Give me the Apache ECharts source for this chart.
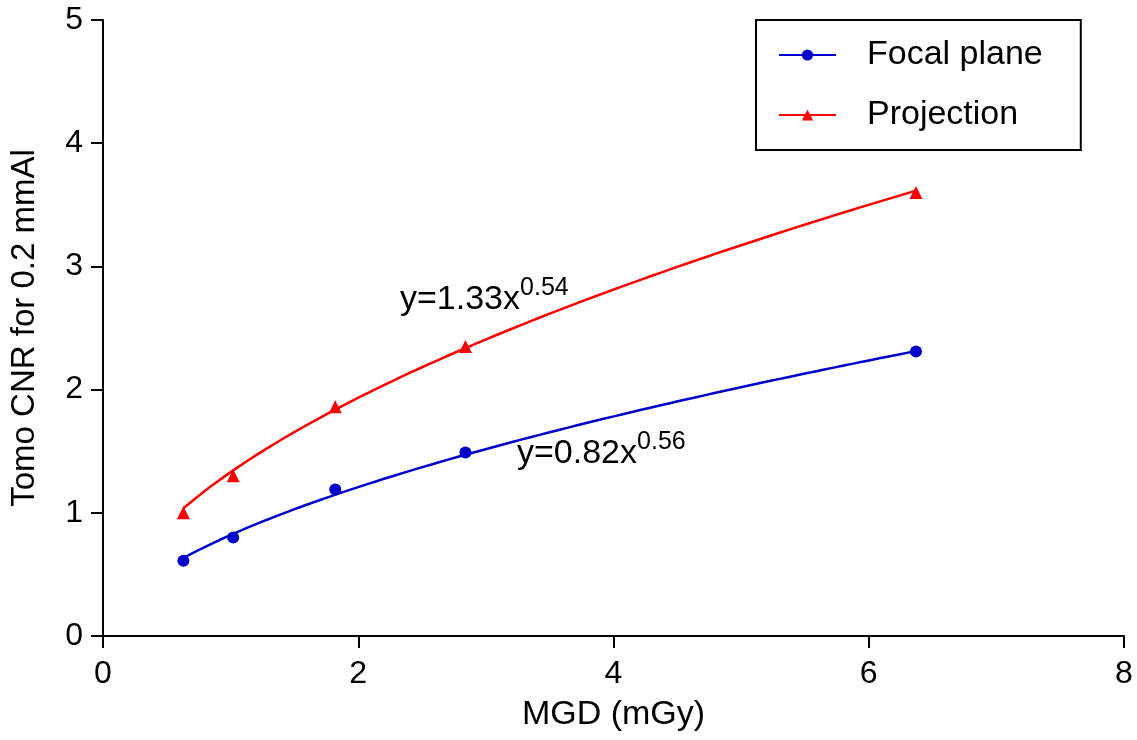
<!DOCTYPE html>
<html>
<head>
<meta charset="utf-8">
<script src="https://cdn.jsdelivr.net/npm/echarts@6/dist/echarts.min.js"></script>
<style>
  html, body { margin: 0; padding: 0; background: #fff; }
  #chart { width: 1137px; height: 740px; }
</style>
</head>
<body>
<div id="chart"></div>
<script>
// Mean glandular dose (mGy) for each acquisition
const mgd = [0.63, 1.02, 1.82, 2.84, 6.37];
// Measured tomosynthesis CNR for 0.2 mmAl
const focalPlane = [0.61, 0.80, 1.19, 1.49, 2.31];
const projection = [1.00, 1.30, 1.86, 2.35, 3.60];
// Power-law fits y = a * x^b
const focalFit = [0.82, 0.56];
const projFit = [1.33, 0.54];
const xTicks = [0, 2, 4, 6, 8];
const yTicks = [0, 1, 2, 3, 4, 5];

const FONT = 'Liberation Sans, Arial, sans-serif';
const BLUE = '#0000CC';
const RED = '#FF0000';

function fitCurve(coef) {
  const pts = [];
  const x0 = mgd[0], x1 = mgd[mgd.length - 1];
  const n = 80;
  for (let i = 0; i <= n; i++) {
    const x = x0 + (x1 - x0) * i / n;
    pts.push([x, coef[0] * Math.pow(x, coef[1])]);
  }
  return pts;
}

function fitLabel(coef) {
  return '{b|y=' + coef[0].toFixed(2) + 'x}{s|' + coef[1].toFixed(2) + '}';
}

const labelRich = {
  b: { fontFamily: FONT, fontSize: 34, fill: '#000', verticalAlign: 'bottom' },
  s: { fontFamily: FONT, fontSize: 25, fill: '#000', verticalAlign: 'bottom', padding: [0, 0, 16, 0] }
};

const chart = echarts.init(document.getElementById('chart'), null, { renderer: 'canvas' });

chart.setOption({
  animation: false,
  backgroundColor: '#ffffff',
  grid: { left: 102, top: 20, right: 13, bottom: 104, containLabel: false },
  xAxis: {
    type: 'value', min: xTicks[0], max: xTicks[xTicks.length - 1], interval: 2,
    name: 'MGD (mGy)', nameLocation: 'middle', nameGap: 62,
    nameTextStyle: { fontFamily: FONT, fontSize: 34, color: '#000' },
    axisLine: { show: true, onZero: false, lineStyle: { color: '#000', width: 2 } },
    axisTick: { show: true, length: 12, inside: false, lineStyle: { color: '#000', width: 2 } },
    axisLabel: { fontFamily: FONT, fontSize: 32, color: '#000', margin: 22 },
    splitLine: { show: false }
  },
  yAxis: {
    type: 'value', min: yTicks[0], max: yTicks[yTicks.length - 1], interval: 1,
    name: 'Tomo CNR for 0.2 mmAl', nameLocation: 'middle', nameGap: 62,
    nameTextStyle: { fontFamily: FONT, fontSize: 33, color: '#000' },
    axisLine: { show: true, onZero: false, lineStyle: { color: '#000', width: 2 } },
    axisTick: { show: true, length: 12, inside: false, lineStyle: { color: '#000', width: 2 } },
    axisLabel: { fontFamily: FONT, fontSize: 32, color: '#000', margin: 20 },
    splitLine: { show: false }
  },
  legend: {
    data: ['Focal plane', 'Projection'],
    orient: 'vertical',
    left: 756, top: 20,
    padding: [18, 38, 18, 22],
    itemGap: 26,
    itemWidth: 57, itemHeight: 14,
    borderColor: '#000', borderWidth: 2, borderRadius: 0,
    textStyle: { fontFamily: FONT, fontSize: 34, color: '#000', padding: [0, 0, 0, 26] }
  },
  graphic: [
    {
      type: 'text', left: 400, top: 276,
      style: { text: fitLabel(projFit), rich: labelRich }
    },
    {
      type: 'text', left: 517, top: 430,
      style: { text: fitLabel(focalFit), rich: labelRich }
    }
  ],
  series: [
    {
      name: 'Focal plane', type: 'line', data: fitCurve(focalFit),
      showSymbol: false, symbol: 'circle', symbolSize: 12, smooth: false,
      lineStyle: { color: BLUE, width: 2.5 }, itemStyle: { color: BLUE },
      z: 2
    },
    {
      name: 'Projection', type: 'line', data: fitCurve(projFit),
      showSymbol: false, symbol: 'triangle', symbolSize: 13, smooth: false,
      lineStyle: { color: RED, width: 2.5 }, itemStyle: { color: RED },
      z: 2
    },
    {
      name: 'Focal plane data', type: 'scatter',
      data: mgd.map((x, i) => [x, focalPlane[i]]),
      symbol: 'circle', symbolSize: 12, itemStyle: { color: BLUE, opacity: 1 }, z: 3
    },
    {
      name: 'Projection data', type: 'scatter',
      data: mgd.map((x, i) => [x, projection[i]]),
      symbol: 'triangle', symbolSize: 13, itemStyle: { color: RED, opacity: 1 }, z: 3
    }
  ]
});
</script>
</body>
</html>
